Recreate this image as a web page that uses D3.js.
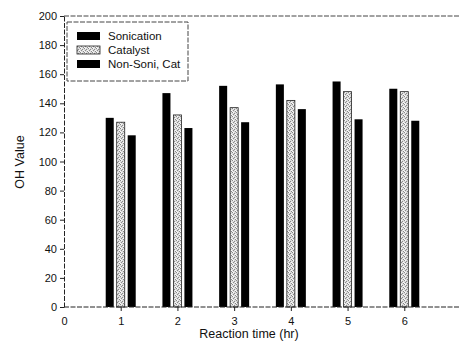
<!DOCTYPE html>
<html>
<head>
<meta charset="utf-8">
<script src="https://cdn.jsdelivr.net/npm/d3@7"></script>
<style>
  body { margin: 0; background: #fff; }
  text { font-family: "Liberation Sans", Arial, sans-serif; fill: #111; }
</style>
</head>
<body>
<div id="chart"></div>
<script>
// data
const times = [1, 2, 3, 4, 5, 6];
const series = ['Sonication', 'Catalyst', 'Non-Soni, Cat'];
const sonication = [130, 147, 152, 153, 155, 150];
const catalyst   = [127, 132, 137, 142, 148, 148];
const nonSoniCat = [118, 123, 127, 136, 129, 128];
const xTicks = [0, 1, 2, 3, 4, 5, 6];
const yTicks = [0, 20, 40, 60, 80, 100, 120, 140, 160, 180, 200];

const values = [sonication, catalyst, nonSoniCat];
const W = 459, H = 358;
const pad = { left: 64, right: -2, top: 16, bottom: 51 };

let svg = d3.select('#chart').append('svg').attr('width', W).attr('height', H);

// stippled fill for the catalyst bars
let defs = svg.append('defs');
let pat = defs.append('pattern').attr('id', 'stip')
  .attr('patternUnits', 'userSpaceOnUse').attr('width', 4).attr('height', 4);
pat.append('rect').attr('width', 4).attr('height', 4).attr('fill', '#dcdcdc');
[[0,0],[2,1],[1,2],[3,3]].forEach(p =>
  pat.append('rect').attr('x', p[0]).attr('y', p[1]).attr('width', 1).attr('height', 1).attr('fill', '#8a8a8a'));
[[1,0],[3,2],[0,3]].forEach(p =>
  pat.append('rect').attr('x', p[0]).attr('y', p[1]).attr('width', 1).attr('height', 1).attr('fill', '#fafafa'));

const x = d3.scaleLinear().domain([0, 7]).range([pad.left, W - pad.right]);
const y = d3.scaleLinear().domain([0, 200]).range([H - pad.bottom, pad.top]);
const off = d3.scaleBand().domain(series).range([-15, 15]).paddingInner(0.27);

const fills = ['#000', 'url(#stip)', '#000'];
const dash = '5,1.5';

// bars
series.forEach((s, i) => {
  svg.append('g').selectAll('rect').data(times).enter().append('rect')
    .attr('x', (t) => x(t) + off(s))
    .attr('width', off.bandwidth())
    .attr('y', (t, j) => y(values[i][j]))
    .attr('height', (t, j) => y(0) - y(values[i][j]))
    .attr('fill', fills[i])
    .attr('stroke', i == 1 ? '#222' : 'none')
    .attr('stroke-width', 0.8);
});

// frame: top dashed line
svg.append('line').attr('x1', x(0)).attr('x2', W).attr('y1', y(200)).attr('y2', y(200))
  .attr('stroke', '#444').attr('stroke-width', 1).attr('stroke-dasharray', dash);

// axes
let ax = svg.append('g').attr('transform', 'translate(0,' + y(0) + ')')
  .call(d3.axisBottom(x).tickValues(xTicks).tickFormat(d3.format('d')).tickSize(4).tickSizeOuter(0));
let ay = svg.append('g').attr('transform', 'translate(' + x(0) + ',0)')
  .call(d3.axisLeft(y).tickValues(yTicks).tickFormat(d3.format('d')).tickSize(4).tickSizeOuter(0));
[ax, ay].forEach(g => {
  g.select('.domain').attr('stroke', '#222').attr('stroke-dasharray', dash);
  g.selectAll('.tick line').attr('stroke', '#222');
  g.selectAll('.tick text').attr('font-size', 11)
    .attr('font-family', '"Liberation Sans", Arial, sans-serif').attr('fill', '#111');
});
ax.select('.domain').attr('d', 'M' + x(0) + ',0H' + W);
ax.selectAll('.tick text').attr('y', 10);
ax.selectAll('.tick').filter(d => d == 0).select('line').remove();
ay.selectAll('.tick text').attr('x', -7);

// axis titles
svg.append('text').attr('x', 249).attr('y', 338).attr('text-anchor', 'middle')
  .attr('font-size', 12.5).text('Reaction time (hr)');
svg.append('text').attr('transform', 'translate(24,162) rotate(-90)')
  .attr('text-anchor', 'middle').attr('font-size', 12.5).text('OH Value');

// legend
let lg = svg.append('g');
lg.append('rect').attr('x', 67).attr('y', 22).attr('width', 121).attr('height', 59)
  .attr('fill', '#fff').attr('stroke', '#444').attr('stroke-dasharray', dash);
series.forEach((s, i) => {
  let cy = 36 + i * 14;
  lg.append('rect').attr('x', 77).attr('y', cy - 4).attr('width', 23).attr('height', 8)
    .attr('fill', fills[i]).attr('stroke', i == 1 ? '#222' : 'none').attr('stroke-width', 0.8);
  lg.append('text').attr('x', 108).attr('y', cy + 4).attr('font-size', 11.5).text(s);
});
</script>
</body>
</html>
